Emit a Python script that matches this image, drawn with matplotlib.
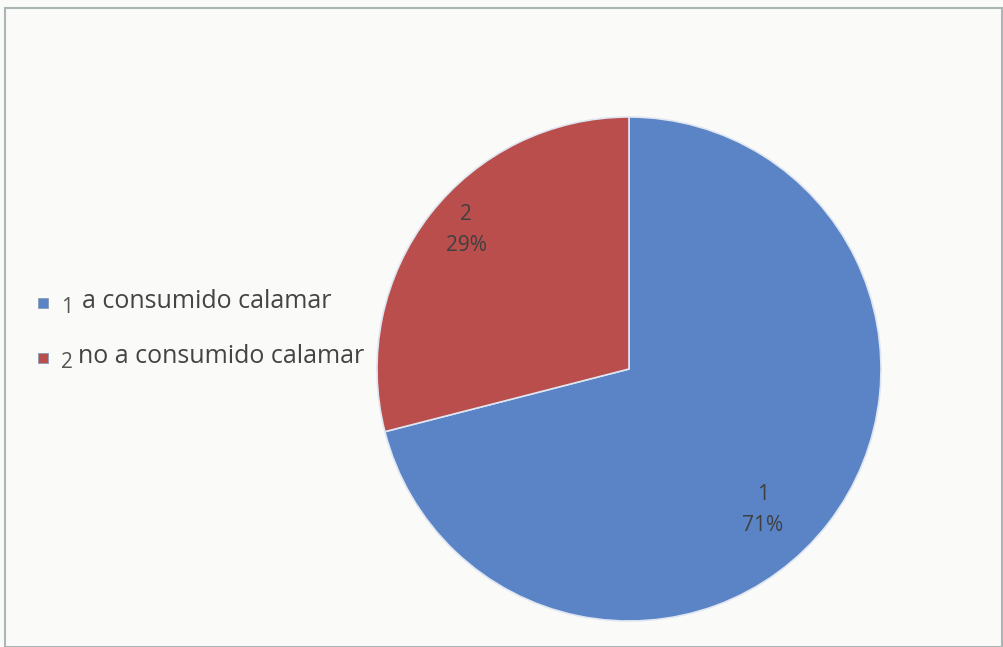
import matplotlib.pyplot as plt
import numpy as np

# pie data
categories = ['1', '2']
values = [71, 29]
legend_labels = ['a consumido calamar', 'no a consumido calamar']
colors = ['#5a84c6', '#b94e4c']

W, H = 1004, 647
fig = plt.figure(figsize=(W / 100, H / 100), dpi=100)
fig.patch.set_facecolor('#fafaf9')

# outer frame of the chart
frame = plt.Rectangle((5 / W, 0), (W - 7) / W, (H - 8) / H, transform=fig.transFigure,
                      fill=False, edgecolor='#a9b6b4', linewidth=1.5)
fig.patches.append(frame)

# pie axes: centre (629, 369) px, radius 252 px
cx, cy, r = 629, 369, 252
ax = fig.add_axes([(cx - r) / W, (H - cy - r) / H, 2 * r / W, 2 * r / H])
wedges, texts, autotexts = ax.pie(values, colors=colors, startangle=90, counterclock=False,
                                  autopct=lambda p: '', pctdistance=0.8,
                                  wedgeprops=dict(edgecolor='#dfe6f2', linewidth=1.2))
ax.set_xlim(-1, 1)
ax.set_ylim(-1, 1)
ax.set_aspect('equal')
ax.axis('off')

# slice labels: category + percent
label_pos = [(-46.5, 0.77), (139.5, 0.85)]
total = sum(values)
for t, cat, v, (ang, dist) in zip(autotexts, categories, values, label_pos):
    a = np.deg2rad(ang)
    t.set_position((dist * np.cos(a), dist * np.sin(a)))
    t.set_text('%s\n%d%%' % (cat, round(100 * v / total)))
    t.set_fontsize(15)
    t.set_color('#404040')
    t.set_family('Open Sans')
    t.set_ha('center')
    t.set_va('center')
    t.set_linespacing(1.6)

# legend drawn by hand to match the small category numbers
rows_y = [308, 363]
for y, cat, lab, col in zip(rows_y, categories, legend_labels, colors):
    fig.patches.append(plt.Rectangle((38 / W, (H - y) / H), 10 / W, 10 / H,
                                     transform=fig.transFigure, facecolor=col,
                                     edgecolor='#8a9bb5', linewidth=0.6))
    fig.text(61 / W, (H - y - 5) / H, cat, fontsize=15, color='#555555',
             family='Open Sans', va='baseline')
    fig.text((82 if cat == '1' else 78) / W, (H - y) / H, lab, fontsize=18,
             color='#444444', family='Open Sans', va='baseline')

fig.savefig('out.png', dpi=100, facecolor=fig.get_facecolor())
